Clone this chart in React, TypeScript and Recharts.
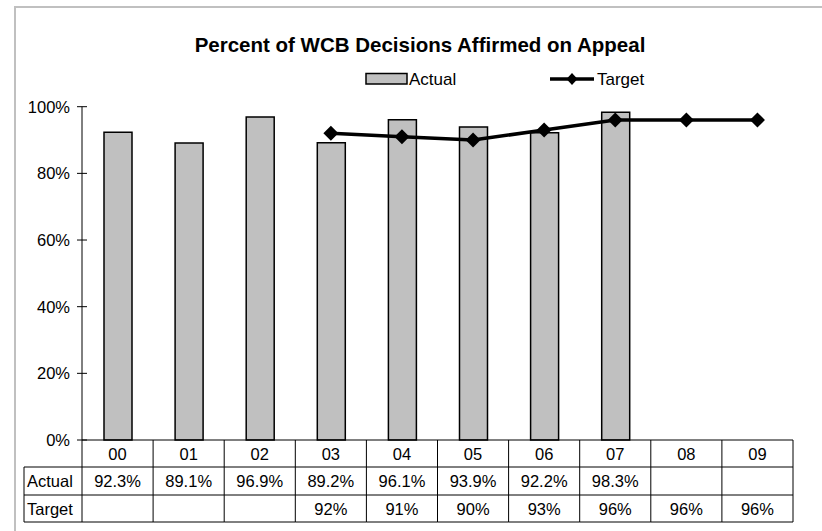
import React from "react";
import { ComposedChart, Bar, Line, XAxis, YAxis } from "recharts";

const CATEGORIES = ["00", "01", "02", "03", "04", "05", "06", "07", "08", "09"];
const ACTUAL: (number | null)[] = [92.3, 89.1, 96.9, 89.2, 96.1, 93.9, 92.2, 98.3, null, null];
const TARGET: (number | null)[] = [null, null, null, 92, 91, 90, 93, 96, 96, 96];
const Y_TICKS = [0, 20, 40, 60, 80, 100];

const W = 822;
const H = 531;
const PLOT_LEFT = 82;
const PLOT_RIGHT = 793;
const PLOT_TOP = 106.7;
const PLOT_BOTTOM = 440;
const BAND = (PLOT_RIGHT - PLOT_LEFT) / CATEGORIES.length;
const ROW1 = 467;
const ROW2 = 495;
const ROW3 = 522;
const LABEL_LEFT = 24;
const Y_AXIS_W = 60;
const X_AXIS_H = 30;
const FONT = "'Liberation Sans', Arial, sans-serif";

const data = CATEGORIES.map((c, i) => ({
  cat: c,
  actual: ACTUAL[i],
  target: TARGET[i],
}));

function YTick(props: any) {
  const { y, payload } = props;
  return (
    <g>
      <line x1={PLOT_LEFT - 5} x2={PLOT_LEFT + 5} y1={y} y2={y} stroke="#000" strokeWidth={1} />
      <text x={PLOT_LEFT - 12} y={y} textAnchor="end" dominantBaseline="central" fontSize={16.5} fontFamily={FONT} fill="#000">
        {payload.value}%
      </text>
    </g>
  );
}

function TableTick(props: any) {
  const { x, index } = props;
  const l = x - BAND / 2;
  const r = x + BAND / 2;
  const a = ACTUAL[index];
  const t = TARGET[index];
  const txt = { fontSize: 16.5, fontFamily: FONT, fill: "#000", dominantBaseline: "central" as const };
  return (
    <g>
      <line x1={l} x2={l} y1={PLOT_BOTTOM} y2={ROW3} stroke="#000" />
      {index === CATEGORIES.length - 1 && <line x1={r} x2={r} y1={PLOT_BOTTOM} y2={ROW3} stroke="#000" />}
      {[ROW1, ROW2, ROW3].map((ry) => (
        <line key={ry} x1={l} x2={r} y1={ry} y2={ry} stroke="#000" />
      ))}
      <text x={x} y={(PLOT_BOTTOM + ROW1) / 2} textAnchor="middle" {...txt}>
        {CATEGORIES[index]}
      </text>
      {a != null && (
        <text x={x} y={(ROW1 + ROW2) / 2} textAnchor="middle" {...txt}>
          {a.toFixed(1)}%
        </text>
      )}
      {t != null && (
        <text x={x} y={(ROW2 + ROW3) / 2} textAnchor="middle" {...txt}>
          {t}%
        </text>
      )}
      {index === 0 && (
        <g>
          <line x1={LABEL_LEFT} x2={LABEL_LEFT} y1={ROW1} y2={ROW3} stroke="#000" />
          {[ROW1, ROW2, ROW3].map((ry) => (
            <line key={ry} x1={LABEL_LEFT} x2={l} y1={ry} y2={ry} stroke="#000" />
          ))}
          <text x={LABEL_LEFT + 3} y={(ROW1 + ROW2) / 2} textAnchor="start" {...txt}>
            Actual
          </text>
          <text x={LABEL_LEFT + 3} y={(ROW2 + ROW3) / 2} textAnchor="start" {...txt}>
            Target
          </text>
        </g>
      )}
    </g>
  );
}

function Diamond(props: any) {
  const { cx, cy, value } = props;
  if (value == null || cx == null || cy == null) return <g />;
  const s = 7.5;
  return (
    <polygon
      points={`${cx},${cy - s} ${cx + s},${cy} ${cx},${cy + s} ${cx - s},${cy}`}
      fill="#000"
    />
  );
}

export default function App() {
  return (
    <div style={{ position: "absolute", left: 0, top: 0, width: W, height: H, background: "#fff", overflow: "hidden" }}>
      <div
        style={{
          position: "absolute",
          left: 14,
          top: 6,
          width: W,
          height: H,
          borderTop: "2px solid #c0c0c0",
          borderLeft: "2px solid #c0c0c0",
        }}
      />
      <svg width={W} height={100} style={{ position: "absolute", left: 0, top: 0 }}>
        <text x={420} y={51.5} textAnchor="middle" fontSize={20.5} fontWeight="bold" fontFamily={FONT} fill="#000">
          Percent of WCB Decisions Affirmed on Appeal
        </text>
        {/* legend */}
        <rect x={366} y={73.5} width={41} height={10.5} fill="#c0c0c0" stroke="#000" strokeWidth={1.5} />
        <text x={409} y={79} dominantBaseline="central" fontSize={17} fontFamily={FONT} fill="#000">
          Actual
        </text>
        <line x1={550} x2={594} y1={79} y2={79} stroke="#000" strokeWidth={3.5} />
        <polygon points="572,73 577.5,79 572,85 566.5,79" fill="#000" />
        <text x={597} y={79} dominantBaseline="central" fontSize={17} fontFamily={FONT} fill="#000">
          Target
        </text>
      </svg>
      <ComposedChart
        width={W}
        height={H}
        data={data}
        margin={{
          top: PLOT_TOP,
          right: W - PLOT_RIGHT,
          bottom: H - PLOT_BOTTOM - X_AXIS_H,
          left: PLOT_LEFT - Y_AXIS_W,
        }}
        barCategoryGap="30%"
        style={{ position: "absolute", left: 0, top: 0 }}
      >
        <XAxis
          dataKey="cat"
          height={X_AXIS_H}
          interval={0}
          tickLine={false}
          axisLine={{ stroke: "#000" }}
          tick={<TableTick />}
        />
        <YAxis
          width={Y_AXIS_W}
          domain={[0, 100]}
          ticks={Y_TICKS}
          interval={0}
          tickLine={false}
          axisLine={{ stroke: "#000" }}
          tick={<YTick />}
        />
        <Bar dataKey="actual" fill="#c0c0c0" stroke="#000" strokeWidth={1.5} barSize={28} isAnimationActive={false} />
        <Line
          dataKey="target"
          stroke="#000"
          strokeWidth={3.5}
          dot={<Diamond />}
          activeDot={false}
          isAnimationActive={false}
        />
      </ComposedChart>
    </div>
  );
}
